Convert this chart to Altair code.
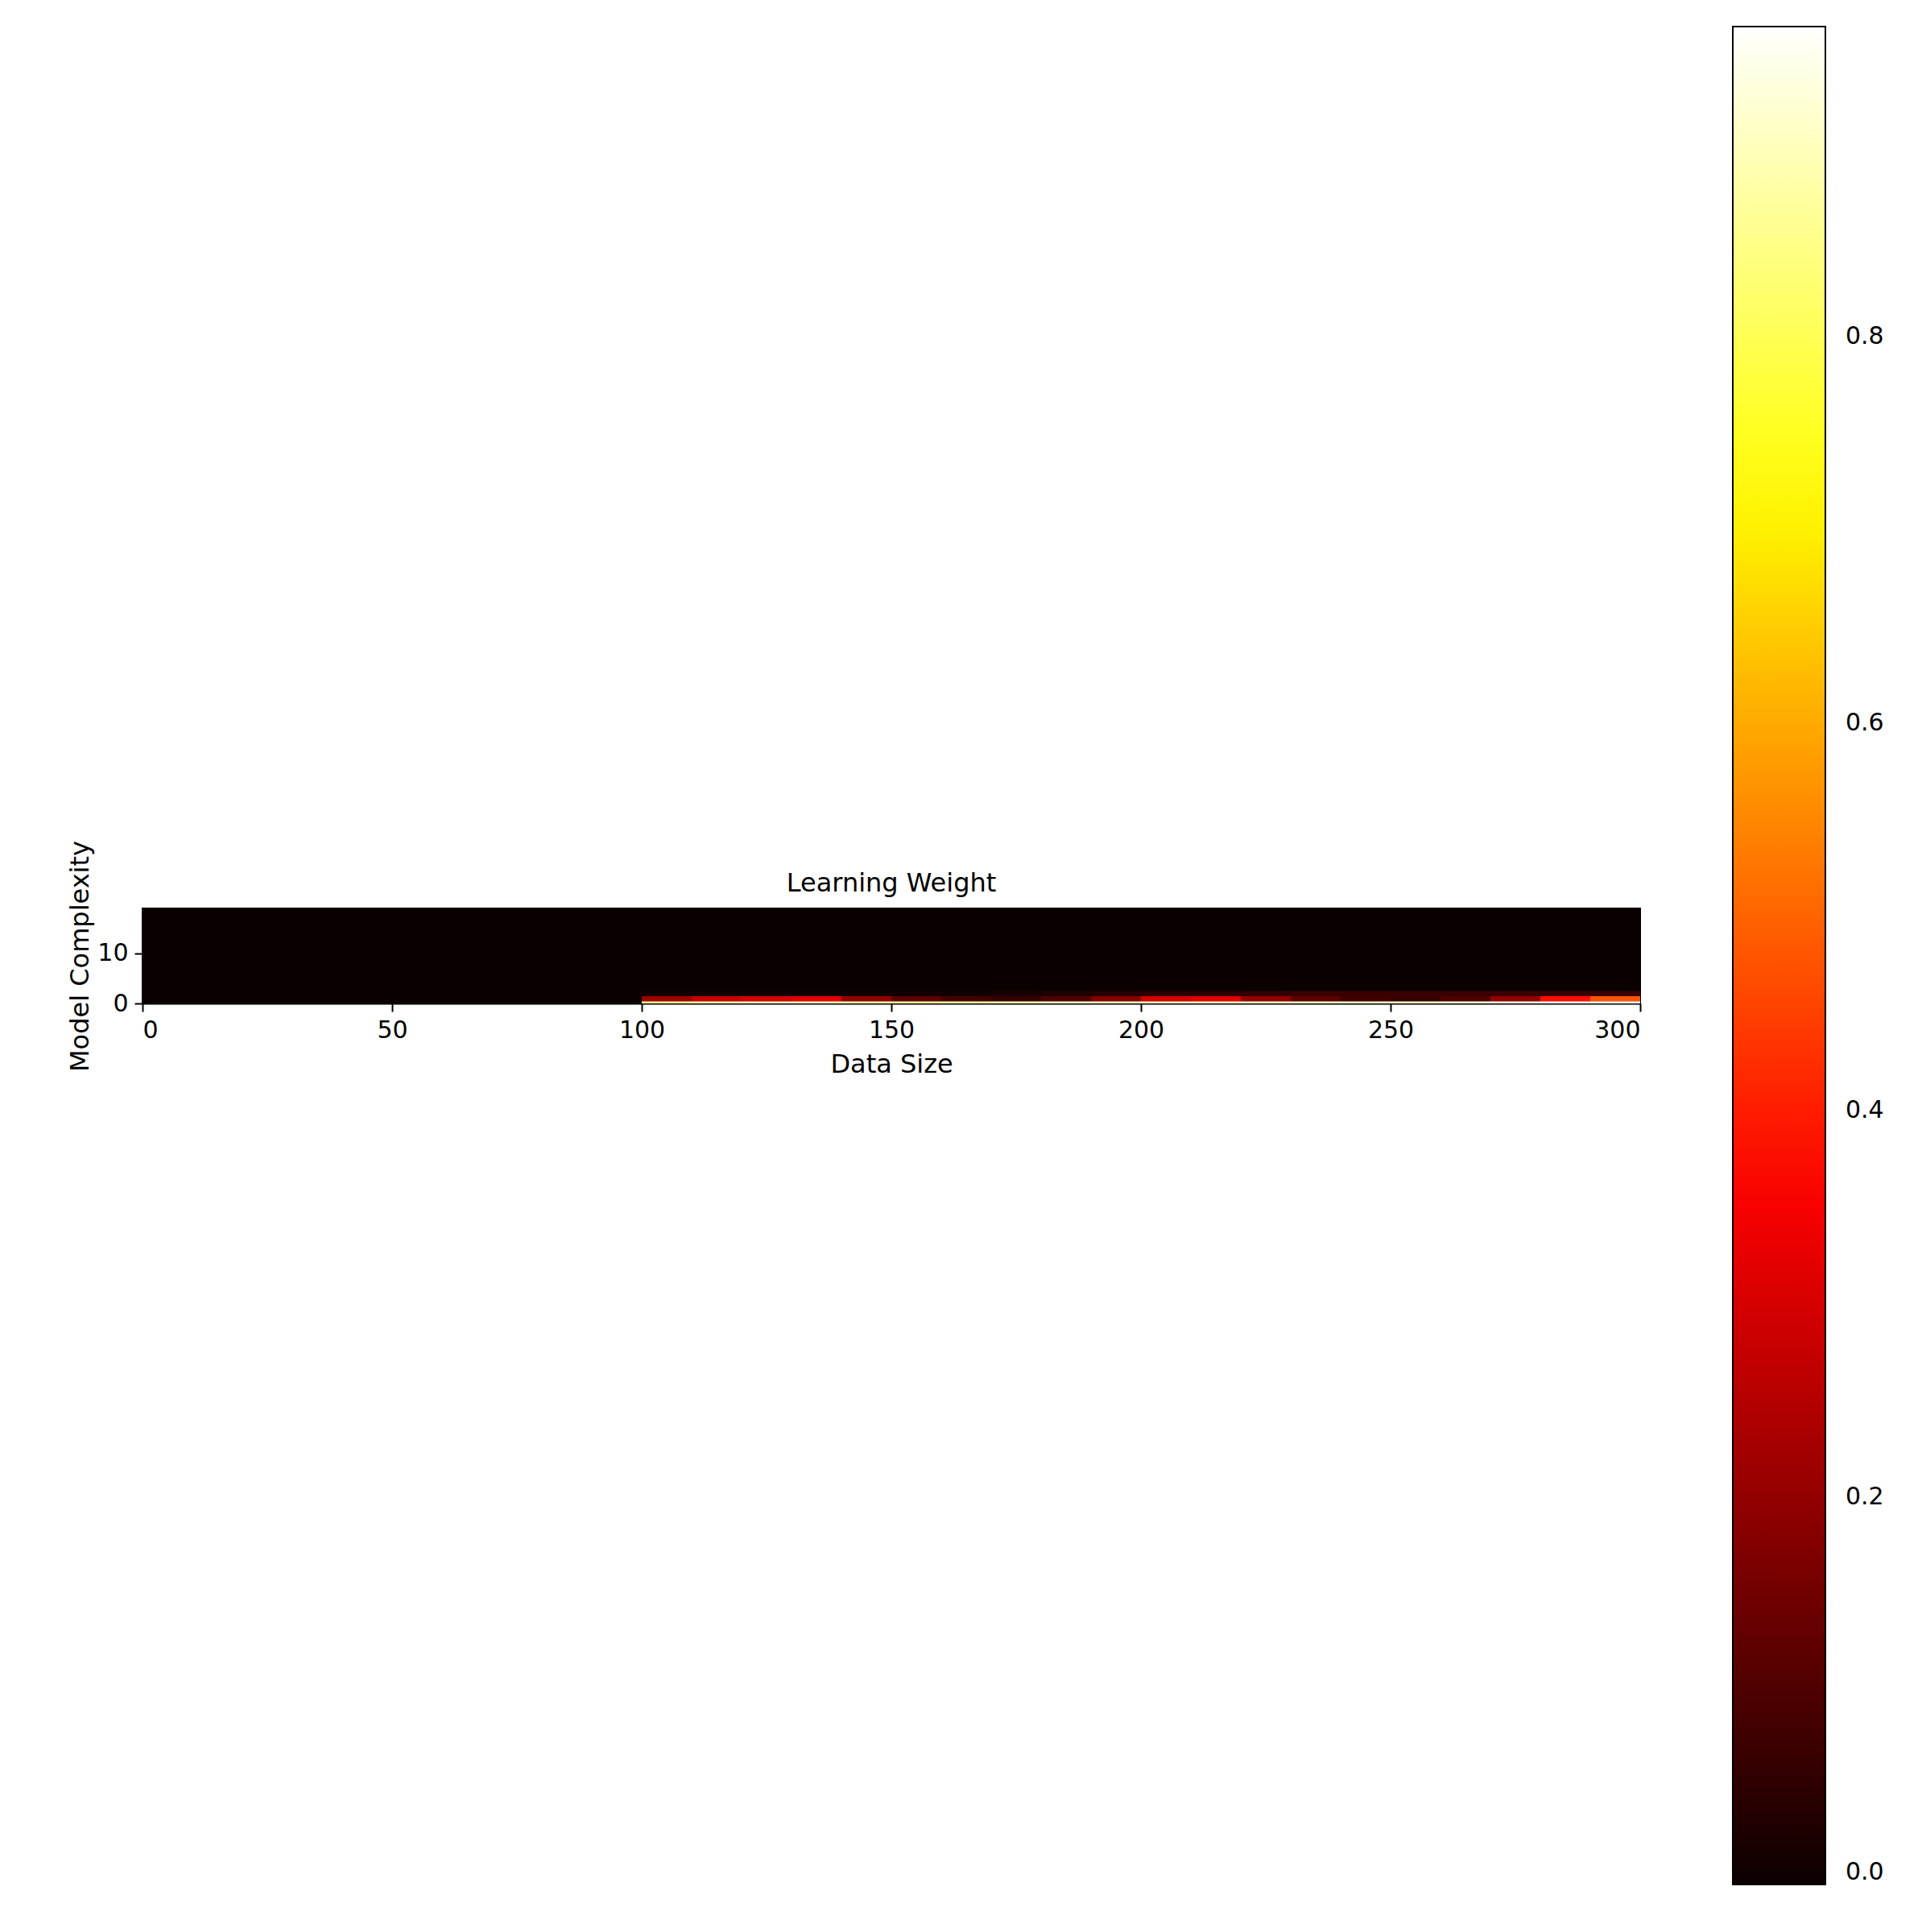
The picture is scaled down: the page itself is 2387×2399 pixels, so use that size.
import altair as alt
import pandas as pd

# Heatmap cells: columns of width 10 from 100 to 300, rows of height 1
x_starts = list(range(100, 300, 10))
row0 = [0.85, 0.88, 0.9, 0.9, 0.88, 0.86, 0.86, 0.88, 0.9, 0.9,
        0.9, 0.9, 0.9, 0.9, 0.9, 0.9, 0.92, 0.93, 0.95, 0.96]
row1 = [0.22, 0.28, 0.3, 0.32, 0.2, 0.12, 0.08, 0.06, 0.1, 0.18,
        0.3, 0.32, 0.2, 0.12, 0.08, 0.06, 0.1, 0.2, 0.38, 0.48]
row2 = [0.01, 0.01, 0.01, 0.01, 0.01, 0.01, 0.01, 0.02, 0.03, 0.04,
        0.05, 0.05, 0.06, 0.07, 0.07, 0.07, 0.07, 0.07, 0.07, 0.07]
n_rows = 19

records = [{"x": 0, "x2": 300, "y": 0, "y2": n_rows, "v": 0.0}]
for y0, y1, vals in [(0, 0.45, row0), (0.45, 1.45, row1), (1.45, 2.45, row2)]:
    for xs, v in zip(x_starts, vals):
        records.append({"x": xs, "x2": xs + 10, "y": y0, "y2": y1, "v": v})
df = pd.DataFrame(records)

hot = alt.Scale(domain=[0, 0.36, 0.72, 0.96],
                range=["#0b0000", "#ff0000", "#ffff00", "#ffffff"], interpolate="rgb")

heat = alt.Chart(df).mark_rect().encode(
    x=alt.X("x:Q", scale=alt.Scale(domain=[0, 300], nice=False),
            axis=alt.Axis(values=[0, 50, 100, 150, 200, 250, 300], title="Data Size",
                          labelPadding=8, titlePadding=12)),
    x2="x2",
    y=alt.Y("y:Q", scale=alt.Scale(domain=[0, n_rows], nice=False),
            axis=alt.Axis(values=[0, 10], title="Model Complexity", labelPadding=8)),
    y2="y2",
    color=alt.Color("v:Q", scale=hot, title=None,
                    legend=alt.Legend(orient="none", legendX=1975, legendY=-1095,
                                      gradientLength=2307, gradientThickness=115,
                                      gradientStrokeColor="black", gradientStrokeWidth=2,
                                      values=[0, 0.2, 0.4, 0.6, 0.8], format=".1f",
                                      labelFontSize=30, labelFont="DejaVu Sans",
                                      labelOffset=25)),
)

title = alt.Chart(pd.DataFrame({"t": ["Learning Weight"]})).mark_text(
    font="DejaVu Sans", fontSize=32, baseline="bottom", color="black"
).encode(text="t:N", x=alt.value(930), y=alt.value(-14))

chart = alt.layer(heat, title).properties(
    width=1860, height=118,
    padding={"left": 75, "top": 25, "right": 20, "bottom": 20},
).configure_axis(
    labelFontSize=30, titleFontSize=32, labelFont="DejaVu Sans", titleFont="DejaVu Sans",
    titleFontWeight="normal", grid=False, domainColor="black", tickColor="black",
    labelColor="black", titleColor="black", tickSize=10, domainWidth=2, tickWidth=2,
).configure_view(stroke="black", strokeWidth=2)

chart.save("out.html", embed_options={"renderer": "svg", "actions": False})
